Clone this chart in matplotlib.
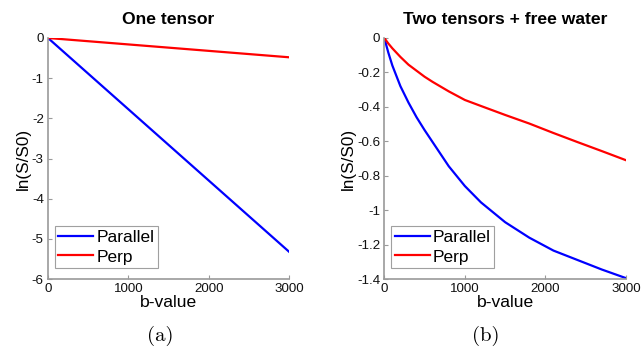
import matplotlib
matplotlib.use("Agg")
import matplotlib.pyplot as plt

# ---- data ----
b_one = [0, 3000]
one_parallel = [0.0, -5.32]
one_perp = [0.0, -0.48]

b_two = [0, 50, 100, 200, 300, 400, 500, 600, 800, 1000, 1200, 1500, 1800, 2100, 2400, 2700, 3000]
two_parallel = [0.0, -0.085, -0.16, -0.28, -0.375, -0.46, -0.535, -0.605, -0.745, -0.86, -0.955,
                -1.07, -1.16, -1.235, -1.29, -1.345, -1.395]
two_perp = [0.0, -0.032, -0.06, -0.11, -0.155, -0.19, -0.225, -0.255, -0.31, -0.36, -0.395,
            -0.447, -0.497, -0.552, -0.605, -0.657, -0.71]

titles = ["One tensor", "Two tensors + free water"]
captions = ["(a)", "(b)"]
xticks = [0, 1000, 2000, 3000]
yticks_a = [0, -1, -2, -3, -4, -5, -6]
yticks_b = [0, -0.2, -0.4, -0.6, -0.8, -1, -1.2, -1.4]
ytick_labels_b = ["0", "-0.2", "-0.4", "-0.6", "-0.8", "-1", "-1.2", "-1.4"]
ytick_labels_a = ["0", "-1", "-2", "-3", "-4", "-5", "-6"]

plt.rcParams['font.family'] = ['Liberation Sans', 'DejaVu Sans']

fig = plt.figure(figsize=(6.42, 3.5), dpi=100)
W, H = 642, 350
ax1 = fig.add_axes([48 / W, 1 - 279 / H, 241 / W, 241 / H])
ax2 = fig.add_axes([384.3 / W, 1 - 279 / H, 241.7 / W, 241 / H])
cap_x = [160 / W, 486 / W]

spine_col = "#9a9a9a"
for i, (ax, b, par, perp, title, cap, yt, ytl, ylim) in enumerate([
    (ax1, b_one, one_parallel, one_perp, titles[0], captions[0], yticks_a, ytick_labels_a, (-6, 0)),
    (ax2, b_two, two_parallel, two_perp, titles[1], captions[1], yticks_b, ytick_labels_b, (-1.4, 0)),
]):
    ax.plot(b, par, color="#0000ff", lw=1.6, label="Parallel")
    ax.plot(b, perp, color="#ff0000", lw=1.6, label="Perp")
    ax.set_xlim(0, 3000)
    ax.set_ylim(*ylim)
    ax.set_xticks(xticks)
    ax.set_xticklabels([str(x) for x in xticks])
    ax.set_yticks(yt)
    ax.set_yticklabels(ytl)
    for s in ["top", "right"]:
        ax.spines[s].set_visible(False)
    for s in ["left", "bottom"]:
        ax.spines[s].set_color(spine_col)
        ax.spines[s].set_linewidth(1.2)
    ax.tick_params(direction="in", length=3, width=0.8, color=spine_col,
                   labelsize=9.6, labelcolor="#111111", pad=3)
    ax.set_title(title, fontsize=12.6, fontweight="bold", pad=10)
    ax.set_xlabel("b-value", fontsize=12.6, labelpad=0)
    ax.set_ylabel("ln(S/S0)", fontsize=12.3, labelpad=1)
    leg = ax.legend(loc="lower left", bbox_to_anchor=(7 / 241, 11 / 241), borderaxespad=0,
                    fontsize=12.5, frameon=True, fancybox=False,
                    handlelength=2.0, handletextpad=0.2,
                    borderpad=0.2, labelspacing=0.25)
    leg.get_frame().set_edgecolor("#888888")
    leg.get_frame().set_linewidth(0.8)
    fig.text(cap_x[i], 1 - 336 / H, cap, ha="center", va="center",
             fontsize=15, family=["cmr10", "DejaVu Serif"])

fig.savefig("out.png", dpi=100)
